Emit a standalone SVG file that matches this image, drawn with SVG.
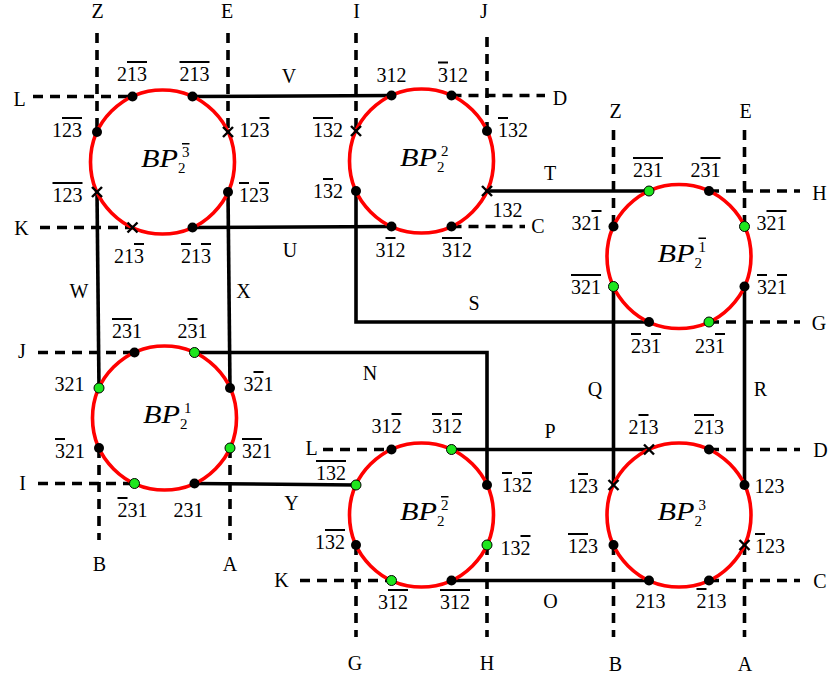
<svg xmlns="http://www.w3.org/2000/svg" width="828" height="679" viewBox="0 0 828 679" font-family="Liberation Serif, DejaVu Serif, serif">
<style>
.bg{fill:#fff}
.ring{fill:none;stroke:#f00;stroke-width:3.6}
.ln{fill:none;stroke:#000;stroke-width:3.6}
.dl{fill:none;stroke:#000;stroke-width:3.6;stroke-dasharray:10 7}
.t{font-size:20px;text-anchor:middle;fill:#000}
.ov{text-decoration:overline}
.bp{font-size:25px;font-style:italic;fill:#000}
.sm{font-size:15px;fill:#000}
</style>
<defs>
<circle id="dot" r="5" fill="#000"/>
<circle id="gdot" r="5" fill="#1ee61e" stroke="#000" stroke-width="1"/>
<g id="xm" stroke="#000" stroke-width="2.4"><line x1="-5" y1="-5" x2="5" y2="5"/><line x1="-5" y1="5" x2="5" y2="-5"/></g>
</defs>
<rect class="bg" x="0" y="0" width="828" height="679"/>

<g id="connectors">
<path class="ln" d="M192.5,96.5 L391.5,95.5"/>
<path class="ln" d="M192.5,227.5 L391.5,226.5"/>
<path class="ln" d="M97,192 L99,388"/>
<path class="ln" d="M228,192 L230,388"/>
<path class="ln" d="M487,191 H649"/>
<path class="ln" d="M356,191 V322 H649"/>
<path class="ln" d="M194.5,352.5 H487 V485"/>
<path class="ln" d="M194.5,483.5 L356,485"/>
<path class="ln" d="M451.5,449.5 H649"/>
<path class="ln" d="M451.5,580.5 H649"/>
<path class="ln" d="M613.5,286.5 V485"/>
<path class="ln" d="M744.5,286.5 V485"/>
<path class="dl" d="M97,33 V132"/>
<path class="dl" d="M228,33 V132"/>
<path class="dl" d="M33,96.5 H132.5"/>
<path class="dl" d="M40,227.5 H132.5"/>
<path class="dl" d="M356,33 V131"/>
<path class="dl" d="M487,37 V131"/>
<path class="dl" d="M451.5,95.5 H545"/>
<path class="dl" d="M451.5,226.5 H525"/>
<path class="dl" d="M613.5,130 V226.5"/>
<path class="dl" d="M744.5,130 V226.5"/>
<path class="dl" d="M709,191 H800"/>
<path class="dl" d="M709,322 H800"/>
<path class="dl" d="M38,352.5 H134.5"/>
<path class="dl" d="M38,483.5 H134.5"/>
<path class="dl" d="M99,448 V540"/>
<path class="dl" d="M230,448 V540"/>
<path class="dl" d="M323,449.5 H391.5"/>
<path class="dl" d="M300,580.5 H391.5"/>
<path class="dl" d="M356,545 V637"/>
<path class="dl" d="M487,545 V637"/>
<path class="dl" d="M709,449.5 H800"/>
<path class="dl" d="M709,580.5 H800"/>
<path class="dl" d="M613.5,545 V637"/>
<path class="dl" d="M744.5,545 V637"/>
<text class="t" x="289" y="83">V</text>
<text class="t" x="290" y="257">U</text>
<text class="t" x="550" y="180">T</text>
<text class="t" x="474" y="310">S</text>
<text class="t" x="79" y="298">W</text>
<text class="t" x="243.5" y="298">X</text>
<text class="t" x="370" y="380">N</text>
<text class="t" x="595" y="396">Q</text>
<text class="t" x="760.5" y="396">R</text>
<text class="t" x="550" y="438">P</text>
<text class="t" x="291.5" y="510">Y</text>
<text class="t" x="550.5" y="608">O</text>
<text class="t" x="97.5" y="18">Z</text>
<text class="t" x="227" y="18">E</text>
<text class="t" x="19.5" y="106">L</text>
<text class="t" x="21.5" y="235">K</text>
<text class="t" x="356.5" y="18">I</text>
<text class="t" x="484" y="18">J</text>
<text class="t" x="560" y="105">D</text>
<text class="t" x="538" y="233">C</text>
<text class="t" x="615.5" y="118">Z</text>
<text class="t" x="745.5" y="118">E</text>
<text class="t" x="819.5" y="200">H</text>
<text class="t" x="819" y="330">G</text>
<text class="t" x="22" y="358">J</text>
<text class="t" x="22.5" y="490">I</text>
<text class="t" x="99.5" y="571">B</text>
<text class="t" x="230" y="571">A</text>
<text class="t" x="311.5" y="455">L</text>
<text class="t" x="281.5" y="587">K</text>
<text class="t" x="355" y="670">G</text>
<text class="t" x="487" y="670">H</text>
<text class="t" x="820.5" y="457">D</text>
<text class="t" x="820" y="588">C</text>
<text class="t" x="615.5" y="671">B</text>
<text class="t" x="745" y="671">A</text>
</g>

<g id="bp2-3bar">
<circle class="ring" cx="162.5" cy="162" r="72"/>
<text class="bp" x="141" y="167" textLength="37" lengthAdjust="spacingAndGlyphs">BP</text><text class="sm" x="178" y="173">2</text><text class="sm" x="182" y="157"><tspan class="ov">3</tspan></text>
<use href="#dot" x="132.5" y="96.5"/><use href="#dot" x="192.5" y="96.5"/>
<use href="#dot" x="97" y="132"/><use href="#xm" x="228" y="132"/>
<use href="#xm" x="97" y="192"/><use href="#dot" x="228" y="192"/>
<use href="#xm" x="132.5" y="227.5"/><use href="#dot" x="192.5" y="227.5"/>
<text class="t" x="132" y="81">2<tspan class="ov">13</tspan></text>
<text class="t" x="194.5" y="81"><tspan class="ov">213</tspan></text>
<text class="t" x="67" y="137">1<tspan class="ov">23</tspan></text>
<text class="t" x="254.5" y="137">12<tspan class="ov">3</tspan></text>
<text class="t" x="67.5" y="202"><tspan class="ov">123</tspan></text>
<text class="t" x="254" y="202"><tspan class="ov">1</tspan>2<tspan class="ov">3</tspan></text>
<text class="t" x="129" y="263">21<tspan class="ov">3</tspan></text>
<text class="t" x="196" y="263"><tspan class="ov">2</tspan>1<tspan class="ov">3</tspan></text>
</g>

<g id="bp2-2">
<circle class="ring" cx="421.5" cy="161" r="72"/>
<text class="bp" x="400" y="166" textLength="37" lengthAdjust="spacingAndGlyphs">BP</text><text class="sm" x="437" y="172">2</text><text class="sm" x="441" y="156">2</text>
<use href="#dot" x="391.5" y="95.5"/><use href="#dot" x="451.5" y="95.5"/>
<use href="#xm" x="356" y="131"/><use href="#dot" x="487" y="131"/>
<use href="#dot" x="356" y="191"/><use href="#xm" x="487" y="191"/>
<use href="#dot" x="391.5" y="226.5"/><use href="#dot" x="451.5" y="226.5"/>
<text class="t" x="391.5" y="81.5">312</text>
<text class="t" x="453" y="81.5"><tspan class="ov">3</tspan>12</text>
<text class="t" x="328" y="137"><tspan class="ov">13</tspan>2</text>
<text class="t" x="513" y="137"><tspan class="ov">1</tspan>32</text>
<text class="t" x="328" y="198">1<tspan class="ov">3</tspan>2</text>
<text class="t" x="507.5" y="217">132</text>
<text class="t" x="390.5" y="257">3<tspan class="ov">1</tspan>2</text>
<text class="t" x="457" y="257"><tspan class="ov">31</tspan>2</text>
</g>

<g id="bp2-1bar">
<circle class="ring" cx="679" cy="256.5" r="72"/>
<text class="bp" x="657.5" y="261.5" textLength="37" lengthAdjust="spacingAndGlyphs">BP</text><text class="sm" x="694.5" y="267.5">2</text><text class="sm" x="698.5" y="251.5"><tspan class="ov">1</tspan></text>
<use href="#gdot" x="649" y="191"/><use href="#dot" x="709" y="191"/>
<use href="#dot" x="613.5" y="226.5"/><use href="#gdot" x="744.5" y="226.5"/>
<use href="#gdot" x="613.5" y="286.5"/><use href="#dot" x="744.5" y="286.5"/>
<use href="#dot" x="649" y="322"/><use href="#gdot" x="709" y="322"/>
<text class="t" x="648" y="177"><tspan class="ov">231</tspan></text>
<text class="t" x="705.5" y="177">2<tspan class="ov">31</tspan></text>
<text class="t" x="586.5" y="230">32<tspan class="ov">1</tspan></text>
<text class="t" x="771.5" y="230">3<tspan class="ov">21</tspan></text>
<text class="t" x="586" y="294"><tspan class="ov">321</tspan></text>
<text class="t" x="772" y="294"><tspan class="ov">3</tspan>2<tspan class="ov">1</tspan></text>
<text class="t" x="646" y="353"><tspan class="ov">2</tspan>3<tspan class="ov">1</tspan></text>
<text class="t" x="710" y="353">23<tspan class="ov">1</tspan></text>
</g>

<g id="bp2-1">
<circle class="ring" cx="164.5" cy="418" r="72"/>
<text class="bp" x="143" y="423" textLength="37" lengthAdjust="spacingAndGlyphs">BP</text><text class="sm" x="180" y="429">2</text><text class="sm" x="184" y="413">1</text>
<use href="#dot" x="134.5" y="352.5"/><use href="#gdot" x="194.5" y="352.5"/>
<use href="#gdot" x="99" y="388"/><use href="#dot" x="230" y="388"/>
<use href="#dot" x="99" y="448"/><use href="#gdot" x="230" y="448"/>
<use href="#gdot" x="134.5" y="483.5"/><use href="#dot" x="194.5" y="483.5"/>
<text class="t" x="127" y="338"><tspan class="ov">23</tspan>1</text>
<text class="t" x="192.5" y="338">2<tspan class="ov">3</tspan>1</text>
<text class="t" x="69.5" y="391">321</text>
<text class="t" x="258.5" y="391">3<tspan class="ov">2</tspan>1</text>
<text class="t" x="70" y="458"><tspan class="ov">3</tspan>21</text>
<text class="t" x="257" y="458"><tspan class="ov">32</tspan>1</text>
<text class="t" x="132.5" y="517"><tspan class="ov">2</tspan>31</text>
<text class="t" x="188.5" y="517">231</text>
</g>

<g id="bp2-2bar">
<circle class="ring" cx="421.5" cy="515" r="72"/>
<text class="bp" x="400" y="520" textLength="37" lengthAdjust="spacingAndGlyphs">BP</text><text class="sm" x="437" y="526">2</text><text class="sm" x="441" y="510"><tspan class="ov">2</tspan></text>
<use href="#dot" x="391.5" y="449.5"/><use href="#gdot" x="451.5" y="449.5"/>
<use href="#gdot" x="356" y="485"/><use href="#dot" x="487" y="485"/>
<use href="#dot" x="356" y="545"/><use href="#gdot" x="487" y="545"/>
<use href="#gdot" x="391.5" y="580.5"/><use href="#dot" x="451.5" y="580.5"/>
<text class="t" x="386.5" y="433">31<tspan class="ov">2</tspan></text>
<text class="t" x="447" y="433"><tspan class="ov">3</tspan>1<tspan class="ov">2</tspan></text>
<text class="t" x="331" y="480"><tspan class="ov">132</tspan></text>
<text class="t" x="517" y="492"><tspan class="ov">1</tspan>3<tspan class="ov">2</tspan></text>
<text class="t" x="330" y="549">1<tspan class="ov">32</tspan></text>
<text class="t" x="515.5" y="555">13<tspan class="ov">2</tspan></text>
<text class="t" x="393" y="609">3<tspan class="ov">12</tspan></text>
<text class="t" x="455" y="609"><tspan class="ov">312</tspan></text>
</g>

<g id="bp2-3">
<circle class="ring" cx="679" cy="515" r="72"/>
<text class="bp" x="657.5" y="520" textLength="37" lengthAdjust="spacingAndGlyphs">BP</text><text class="sm" x="694.5" y="526">2</text><text class="sm" x="698.5" y="510">3</text>
<use href="#xm" x="649" y="449.5"/><use href="#dot" x="709" y="449.5"/>
<use href="#xm" x="613.5" y="485"/><use href="#dot" x="744.5" y="485"/>
<use href="#dot" x="613.5" y="545"/><use href="#xm" x="744.5" y="545"/>
<use href="#dot" x="649" y="580.5"/><use href="#dot" x="709" y="580.5"/>
<text class="t" x="643.5" y="434">2<tspan class="ov">1</tspan>3</text>
<text class="t" x="709" y="434"><tspan class="ov">21</tspan>3</text>
<text class="t" x="583" y="493">1<tspan class="ov">2</tspan>3</text>
<text class="t" x="769.5" y="493">123</text>
<text class="t" x="583" y="553"><tspan class="ov">12</tspan>3</text>
<text class="t" x="770" y="553"><tspan class="ov">1</tspan>23</text>
<text class="t" x="650.5" y="608">213</text>
<text class="t" x="711.5" y="608"><tspan class="ov">2</tspan>13</text>
</g>
</svg>
